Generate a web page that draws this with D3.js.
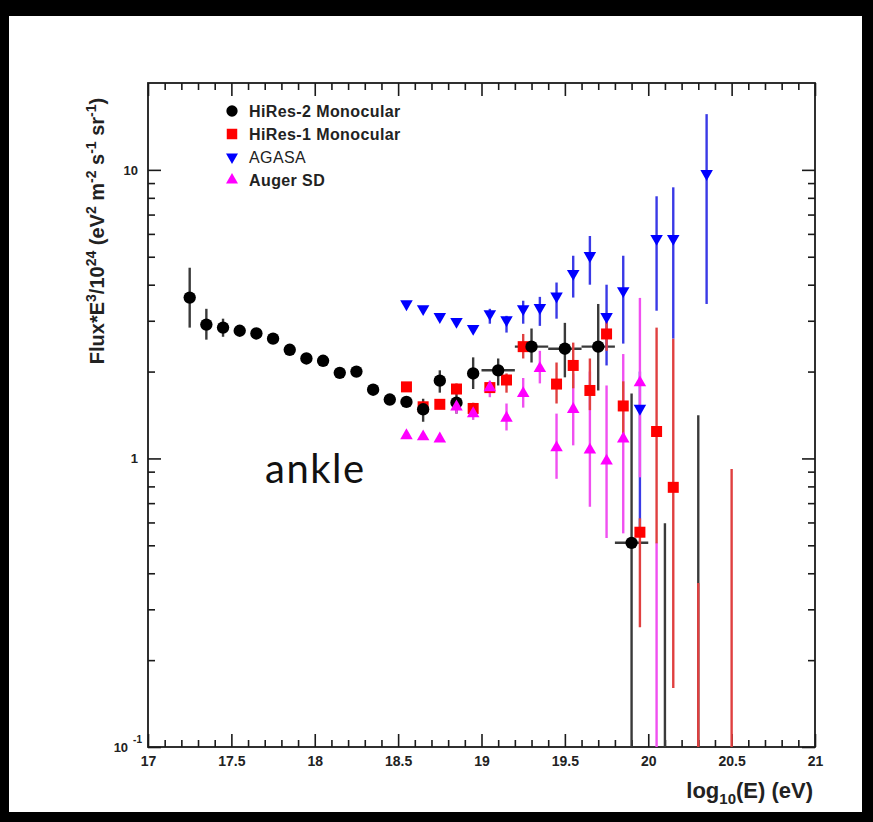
<!DOCTYPE html>
<html>
<head>
<meta charset="utf-8">
<script src="https://cdn.jsdelivr.net/npm/d3@7"></script>
<style>
  html, body { margin: 0; padding: 0; background: #000; }
  svg { display: block; }
</style>
</head>
<body>
<svg id="chart" width="873" height="822"></svg>
<script>
// ---- Cosmic-ray spectrum: Flux*E^3 vs log10(E) ----

// HiRes-2 monocular
const hires2E    = [17.25, 17.35, 17.45, 17.55, 17.65, 17.75, 17.85, 17.95, 18.05, 18.15, 18.25, 18.35, 18.45, 18.55, 18.65, 18.75, 18.85, 18.95, 19.1, 19.3, 19.5, 19.7, 19.9];
const hires2Flux = [3.61, 2.91, 2.84, 2.77, 2.71, 2.60, 2.38, 2.22, 2.18, 1.98, 2.00, 1.73, 1.60, 1.57, 1.48, 1.86, 1.56, 1.97, 2.02, 2.44, 2.40, 2.44, 0.51];
const hires2Lo   = [2.84, 2.58, 2.64, 2.70, 2.64, 2.54, 2.32, 2.16, 2.12, 1.93, 1.95, 1.68, 1.55, 1.51, 1.34, 1.69, 1.43, 1.74, 1.79, 2.15, 1.91, 1.72, 0.05];
const hires2Hi   = [4.58, 3.30, 3.05, 2.85, 2.78, 2.67, 2.45, 2.28, 2.24, 2.04, 2.06, 1.78, 1.66, 1.63, 1.61, 2.02, 1.76, 2.24, 2.22, 2.82, 2.95, 3.43, 1.68];
const hires2Bin  = [0, 0, 0, 0, 0, 0, 0, 0, 0, 0, 0, 0, 0, 0, 0, 0, 0, 0, 0.1, 0.1, 0.1, 0.1, 0.1];
const hires2LimE  = [20.1, 20.3];
const hires2LimHi = [0.596, 1.41];

// HiRes-1 monocular
const hires1E    = [18.55, 18.65, 18.75, 18.85, 18.95, 19.05, 19.15, 19.25, 19.45, 19.55, 19.65, 19.75, 19.85, 19.95, 20.05, 20.15];
const hires1Flux = [1.77, 1.51, 1.54, 1.74, 1.49, 1.76, 1.87, 2.44, 1.81, 2.10, 1.72, 2.70, 1.52, 0.555, 1.24, 0.794];
const hires1Lo   = [1.72, 1.46, 1.49, 1.67, 1.43, 1.69, 1.69, 2.22, 1.55, 1.75, 1.47, 2.36, 1.20, 0.26, 0.508, 0.16];
const hires1Hi   = [1.83, 1.57, 1.60, 1.82, 1.56, 1.84, 1.97, 2.70, 2.15, 2.52, 2.22, 3.10, 1.85, 0.62, 2.84, 2.60];
const hires1LimE  = [20.3, 20.5];
const hires1LimHi = [0.37, 0.92];

// AGASA
const agasaE    = [18.55, 18.65, 18.75, 18.85, 18.95, 19.05, 19.15, 19.25, 19.35, 19.45, 19.55, 19.65, 19.75, 19.85, 19.95, 20.05, 20.15, 20.35];
const agasaFlux = [3.43, 3.30, 3.10, 2.98, 2.82, 3.17, 3.02, 3.30, 3.33, 3.65, 4.37, 5.04, 3.10, 3.81, 1.49, 5.78, 5.78, 9.7];
const agasaLo   = [3.36, 3.23, 3.04, 2.92, 2.76, 2.93, 2.73, 2.93, 2.88, 3.05, 3.61, 4.00, 2.10, 2.50, 0.56, 3.25, 2.60, 3.43];
const agasaHi   = [3.50, 3.37, 3.16, 3.04, 2.88, 3.30, 3.12, 3.52, 3.63, 4.07, 5.04, 5.90, 4.00, 5.04, 2.00, 8.10, 8.70, 15.6];

// Auger surface detector
const augerE    = [18.55, 18.65, 18.75, 18.85, 18.95, 19.05, 19.15, 19.25, 19.35, 19.45, 19.55, 19.65, 19.75, 19.85, 19.95];
const augerFlux = [1.20, 1.19, 1.17, 1.51, 1.43, 1.76, 1.38, 1.68, 2.05, 1.09, 1.48, 1.07, 0.98, 1.17, 1.83];
const augerLo   = [1.17, 1.16, 1.14, 1.43, 1.36, 1.63, 1.25, 1.50, 1.82, 0.85, 1.11, 0.68, 0.53, 0.55, 0.86];
const augerHi   = [1.23, 1.22, 1.20, 1.59, 1.50, 1.86, 1.55, 1.90, 2.36, 1.43, 1.97, 2.00, 1.79, 2.30, 3.60];
const augerLimE  = [20.05];
const augerLimHi = [0.51];

// Axes
const xTickValues = [17, 17.5, 18, 18.5, 19, 19.5, 20, 20.5, 21];
const xTickLabels = ["17", "17.5", "18", "18.5", "19", "19.5", "20", "20.5", "21"];
const yTickValues = [0.1, 1, 10];
const yTickLabels = [["10", "-1"], ["1", ""], ["10", ""]];
const legendNames = ["HiRes-2 Monocular", "HiRes-1 Monocular", "AGASA", "Auger SD"];

// ---- layout ----
const svg = d3.select("#chart");
const plotL = 148, plotR = 815, plotT = 83, plotB = 747;

svg.append("rect").attr("x", 9).attr("y", 16).attr("width", 853).attr("height", 796).attr("fill", "#fff");

const x = d3.scaleLinear().domain([17, 21]).range([plotL, plotR]);
const y = d3.scaleLog().domain([0.1, 20]).range([plotB, plotT]);

svg.append("defs").append("clipPath").attr("id", "plotClip")
  .append("rect").attr("x", plotL).attr("y", plotT).attr("width", plotR - plotL).attr("height", plotB - plotT);

const axisColor = "#1a1a1a";
const font = "'Liberation Sans', Arial, Helvetica, sans-serif";

function styleAxis(g) {
  g.select(".domain").remove();
  g.selectAll(".tick line").attr("stroke", axisColor).attr("stroke-width", 1.6);
  g.selectAll(".tick text").attr("fill", "#222").attr("font-family", font)
    .attr("font-weight", "bold").attr("font-size", 14);
}

const xMinor = d3.range(170, 211).map(v => v / 10).filter(v => !xTickValues.some(t => Math.abs(t - v) < 1e-6));
const yMinor = [0.2, 0.3, 0.4, 0.5, 0.6, 0.7, 0.8, 0.9, 2, 3, 4, 5, 6, 7, 8, 9];

// bottom axis
svg.append("g").attr("transform", `translate(0,${plotB})`)
  .call(d3.axisBottom(x).tickValues(xTickValues).tickSize(-13).tickPadding(9)
    .tickFormat((d, i) => xTickLabels[i]))
  .call(styleAxis);
svg.append("g").attr("transform", `translate(0,${plotB})`)
  .call(d3.axisBottom(x).tickValues(xMinor).tickSize(-7).tickFormat(""))
  .call(styleAxis);
// top axis (mirrored ticks)
svg.append("g").attr("transform", `translate(0,${plotT})`)
  .call(d3.axisTop(x).tickValues(xTickValues).tickSize(-13).tickFormat(""))
  .call(styleAxis);
svg.append("g").attr("transform", `translate(0,${plotT})`)
  .call(d3.axisTop(x).tickValues(xMinor).tickSize(-7).tickFormat(""))
  .call(styleAxis);
// left axis
const yAxisG = svg.append("g").attr("transform", `translate(${plotL},0)`)
  .call(d3.axisLeft(y).tickValues(yTickValues).tickSize(-13).tickPadding(11).tickFormat(""))
  .call(styleAxis);
svg.append("g").attr("transform", `translate(${plotL},0)`)
  .call(d3.axisLeft(y).tickValues(yMinor).tickSize(-7).tickFormat(""))
  .call(styleAxis);
// y tick labels with exponent
yAxisG.selectAll(".tick").each(function(d, i) {
  const lab = yTickLabels[i];
  const t = d3.select(this).select("text").text(null).attr("dy", "0.35em");
  if (lab[1]) {
    t.attr("x", -6);
    t.append("tspan").text(lab[0]);
    t.append("tspan").attr("dx", 5).attr("dy", "-0.95em").attr("font-size", 10).text(lab[1]);
  } else {
    t.attr("x", -10);
    t.append("tspan").text(lab[0]);
  }
  t.attr("font-size", 13);
});
// right axis
svg.append("g").attr("transform", `translate(${plotR},0)`)
  .call(d3.axisRight(y).tickValues(yTickValues).tickSize(-13).tickFormat(""))
  .call(styleAxis);
svg.append("g").attr("transform", `translate(${plotR},0)`)
  .call(d3.axisRight(y).tickValues(yMinor).tickSize(-7).tickFormat(""))
  .call(styleAxis);

// frame
svg.append("rect").attr("x", plotL).attr("y", plotT).attr("width", plotR - plotL).attr("height", plotB - plotT)
  .attr("fill", "none").attr("stroke", axisColor).attr("stroke-width", 1.8);

// ---- axis titles ----
const xt = svg.append("text").attr("x", 813).attr("y", 798).attr("text-anchor", "end")
  .attr("font-family", font).attr("font-weight", "bold").attr("font-size", 22).attr("fill", "#222");
xt.append("tspan").text("log");
xt.append("tspan").attr("font-size", 15).attr("dy", 6).text("10");
xt.append("tspan").attr("dy", -6).text("(E) (eV)");

const yt = svg.append("text").attr("transform", "translate(104,231) rotate(-90)").attr("text-anchor", "middle")
  .attr("font-family", font).attr("font-weight", "bold").attr("font-size", 20).attr("fill", "#222");
const ySeg = [["Flux*E", 0], ["3", 1], ["/10", 0], ["24", 1], [" (eV", 0], ["2", 1], [" m", 0], ["-2", 1], [" s", 0], ["-1", 1], [" sr", 0], ["-1", 1], [")", 0]];
let sup = false;
ySeg.forEach(([s, isSup]) => {
  const ts = yt.append("tspan").text(s);
  if (isSup && !sup) { ts.attr("dy", -8).attr("font-size", 14); sup = true; }
  else if (isSup) { ts.attr("font-size", 14); }
  else if (!isSup && sup) { ts.attr("dy", 8); sup = false; }
});

// ---- series drawing ----
const plot = svg.append("g").attr("clip-path", "url(#plotClip)");
const barW = 2.4;
const yMin = 0.1;

function rows(E, F, Lo, Hi, Bin) {
  return E.map((e, i) => ({ e, f: F[i], lo: Lo[i], hi: Hi[i], bin: Bin ? Bin[i] : 0 }));
}
function limits(E, Hi) {
  return E.map((e, i) => ({ e, hi: Hi[i] }));
}
function drawBars(data, lim, color) {
  const g = plot.append("g").attr("stroke", color).attr("stroke-width", barW);
  g.selectAll("line.v").data(data).join("line").attr("class", "v")
    .attr("x1", d => x(d.e)).attr("x2", d => x(d.e))
    .attr("y1", d => y(d.hi)).attr("y2", d => y(Math.max(d.lo, yMin * 0.5)));
  g.selectAll("line.h").data(data.filter(d => d.bin > 0)).join("line").attr("class", "h")
    .attr("x1", d => x(d.e - d.bin)).attr("x2", d => x(d.e + d.bin))
    .attr("y1", d => y(d.f)).attr("y2", d => y(d.f));
  g.selectAll("line.l").data(lim).join("line").attr("class", "l")
    .attr("x1", d => x(d.e)).attr("x2", d => x(d.e))
    .attr("y1", d => y(d.hi)).attr("y2", y(yMin * 0.5));
}
function drawMarks(data, symbol, size, color, rot) {
  plot.append("g").selectAll("path").data(data).join("path")
    .attr("d", d3.symbol().type(symbol).size(size))
    .attr("transform", d => `translate(${x(d.e)},${y(d.f)})${rot ? " rotate(180)" : ""}`)
    .attr("fill", color);
}

const h2 = rows(hires2E, hires2Flux, hires2Lo, hires2Hi, hires2Bin);
const h1 = rows(hires1E, hires1Flux, hires1Lo, hires1Hi);
const ag = rows(agasaE, agasaFlux, agasaLo, agasaHi);
const au = rows(augerE, augerFlux, augerLo, augerHi);

const colors = { h2: "#000000", h1: "#ff0000", ag: "#0000ff", au: "#ff00ff" };
const barColors = { h2: "#3a3a3a", h1: "#e04040", ag: "#3a3ae6", au: "#f050f0" };

drawBars(h2, limits(hires2LimE, hires2LimHi), barColors.h2);
drawBars(ag, [], barColors.ag);
drawBars(au, limits(augerLimE, augerLimHi), barColors.au);
drawBars(h1, limits(hires1LimE, hires1LimHi), barColors.h1);

drawMarks(h1, d3.symbolSquare, 121, colors.h1, false);
drawMarks(h2, d3.symbolCircle, 120, colors.h2, false);
drawMarks(ag, d3.symbolTriangle, 68, colors.ag, true);
drawMarks(au, d3.symbolTriangle, 68, colors.au, false);

// ---- legend ----
const legendSyms = [[d3.symbolCircle, 100, colors.h2, false, "bold"],
                    [d3.symbolSquare, 110, colors.h1, false, "bold"],
                    [d3.symbolTriangle, 62, colors.ag, true, "normal"],
                    [d3.symbolTriangle, 62, colors.au, false, "bold"]];
const legendY = [111, 134, 157, 180];
const leg = svg.append("g");
legendNames.forEach((name, i) => {
  const [sym, sz, col, rot, wt] = legendSyms[i];
  leg.append("path").attr("d", d3.symbol().type(sym).size(sz))
    .attr("transform", `translate(232,${legendY[i]})${rot ? " rotate(180)" : ""}`).attr("fill", col);
  leg.append("text").attr("x", 249).attr("y", legendY[i]).attr("dy", "0.36em")
    .attr("font-family", font).attr("font-weight", wt).attr("font-size", 16)
    .attr("letter-spacing", 0.4).attr("fill", "#222").text(name);
});

// annotation
svg.append("text").attr("x", 265).attr("y", 483).attr("font-family", "Lato, 'Open Sans', sans-serif")
  .attr("font-size", 40).attr("letter-spacing", 1.5).attr("fill", "#111").text("ankle");
</script>
</body>
</html>
